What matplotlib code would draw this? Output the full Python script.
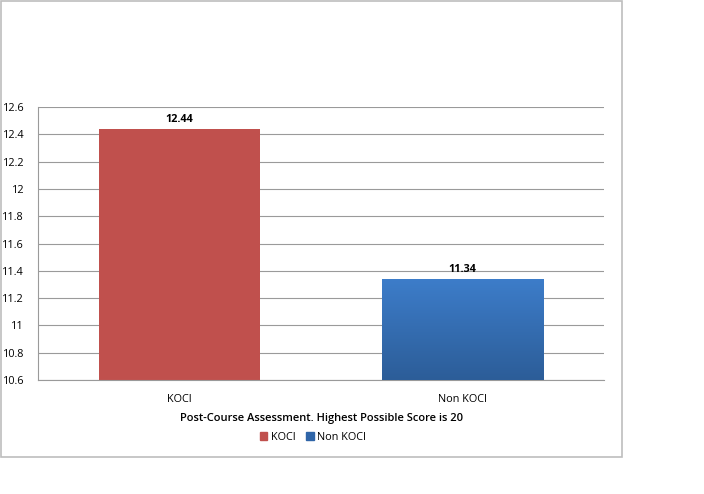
import matplotlib
matplotlib.use("Agg")
import matplotlib.pyplot as plt
import numpy as np
from matplotlib.colors import LinearSegmentedColormap
from matplotlib.patches import Rectangle, Patch

categories = ["KOCI", "Non KOCI"]
scores = [12.44, 11.34]
yticks = [10.6, 10.8, 11.0, 11.2, 11.4, 11.6, 11.8, 12.0, 12.2, 12.4, 12.6]
ytick_labels = ["10.6", "10.8", "11", "11.2", "11.4", "11.6", "11.8", "12", "12.2", "12.4", "12.6"]
xlabel = "Post-Course Assessment. Highest Possible Score is 20"

plt.rcParams["font.family"] = ["Open Sans", "DejaVu Sans"]

W, H = 704, 494
fig = plt.figure(figsize=(W / 100, H / 100), dpi=100)
fig.patch.set_facecolor("white")

# chart border
fig.patches.append(Rectangle((1 / W, 1 - 457 / H), 621 / W, 456 / H, transform=fig.transFigure,
                             fill=False, edgecolor="#BEBEBE", linewidth=1.2))

ax = fig.add_axes([38 / W, 1 - 380 / H, 566 / W, 273 / H])
ax.set_xlim(-0.5, 1.5)
ax.set_ylim(10.6, 12.6)
ax.set_yticks(yticks)
ax.set_yticklabels(ytick_labels, fontsize=7.8)
ax.yaxis.grid(True, color="#9A9A9A", linewidth=0.8)
ax.set_axisbelow(True)
for s in ["top", "right"]:
    ax.spines[s].set_visible(False)
ax.spines["left"].set_color("#9A9A9A")
ax.spines["bottom"].set_color("#9A9A9A")
ax.tick_params(axis="y", length=0, pad=10)
ax.tick_params(axis="x", length=0, pad=10)
ax.set_xticks(range(len(categories)))
ax.set_xticklabels(categories, fontsize=7.8)

x = np.arange(len(categories))
bars = ax.bar(x, [s - 10.6 for s in scores], bottom=10.6, width=0.572,
              color=["#C0504D", "#3D7DCA"], zorder=2)

# gradient on second bar
b = bars[1]
grad = LinearSegmentedColormap.from_list("blu", ["#2C5D98", "#3D7DCA"])
gx0, gy0 = b.get_x(), b.get_y()
img = ax.imshow(np.linspace(0, 1, 256).reshape(-1, 1), cmap=grad, origin="lower", aspect="auto",
                extent=[gx0, gx0 + b.get_width(), gy0, gy0 + b.get_height()], zorder=3)
img.set_clip_path(b)

for rect, val in zip(bars, scores):
    ax.text(rect.get_x() + rect.get_width() / 2, val + 0.03, f"{val:.2f}",
            ha="center", va="bottom", fontsize=7.8, fontweight="bold")

ax.set_xlabel(xlabel, fontsize=8, fontweight="semibold", labelpad=6)

handles = [Patch(color="#C0504D", label="KOCI"), Patch(color="#2F65A8", label="Non KOCI")]
fig.legend(handles=handles, loc="center", bbox_to_anchor=(313 / W, 1 - 437 / H), ncol=2,
           frameon=False, fontsize=7.8, handlelength=0.7, handleheight=0.7, handletextpad=0.3,
           columnspacing=1.0)

fig.savefig("out.png", dpi=100)
